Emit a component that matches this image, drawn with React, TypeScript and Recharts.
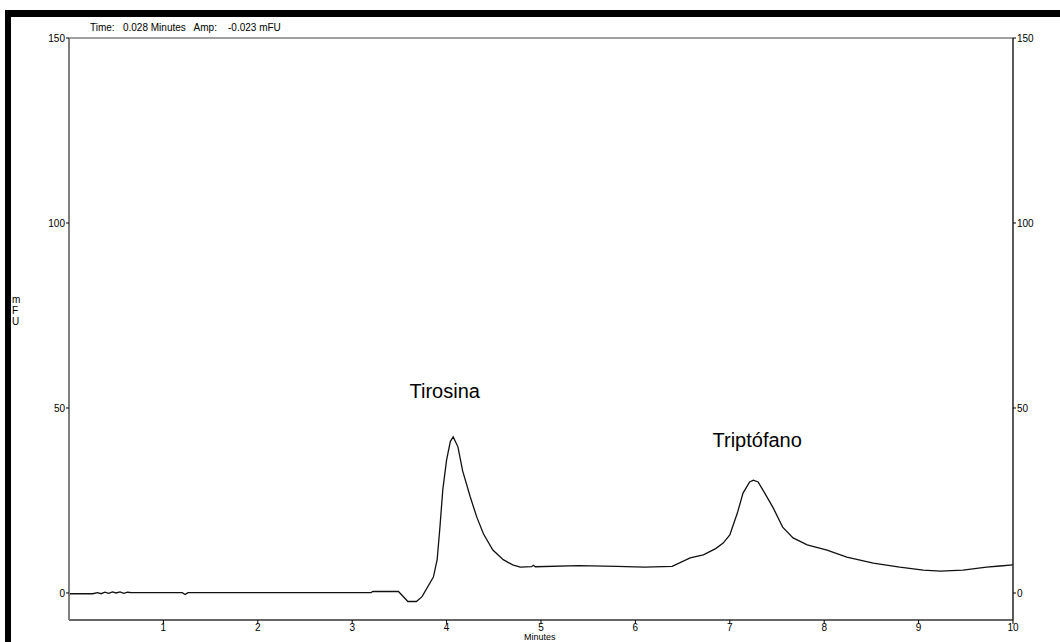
import React from "react";
import {
  LineChart,
  Line,
  XAxis,
  YAxis,
  ReferenceLine,
  ReferenceDot,
} from "recharts";

// retention time (min) and signal (mFU)
const times = [
  0.0, 0.25, 0.3, 0.34, 0.38, 0.42, 0.46, 0.5, 0.54, 0.58, 0.62, 0.66,
  1.2, 1.23, 1.26, 3.2, 3.22, 3.49, 3.59, 3.68, 3.74, 3.86, 3.9, 3.93,
  3.96, 4.0, 4.04, 4.07, 4.12, 4.17, 4.25, 4.32, 4.39, 4.49, 4.6, 4.7,
  4.78, 4.9, 4.92, 4.94, 5.4, 5.8, 6.1, 6.39, 6.58, 6.72, 6.85, 6.93,
  7.0, 7.08, 7.14, 7.21, 7.25, 7.3, 7.37, 7.46, 7.56, 7.67, 7.82, 8.03,
  8.24, 8.52, 8.8, 9.05, 9.23, 9.47, 9.72, 9.86, 10.0,
];
const amps = [
  -0.2, -0.2, 0.1, -0.2, 0.2, -0.1, 0.3, 0.0, 0.3, -0.1, 0.2, 0.1,
  0.1, -0.4, 0.1, 0.1, 0.45, 0.4, -2.3, -2.3, -1.0, 4.3, 9, 18,
  28, 36, 41, 42.2, 39.5, 33, 26, 20.5, 16, 11.6, 9, 7.6,
  7.0, 7.1, 7.5, 7.1, 7.4, 7.2, 7.0, 7.2, 9.5, 10.3, 12.0, 13.5,
  15.7, 21.6, 27, 30, 30.5, 30, 27, 23, 17.8, 14.9, 13, 11.6,
  9.7, 8.1, 7.0, 6.2, 5.9, 6.2, 7.0, 7.3, 7.6,
];

const xTicks = [1, 2, 3, 4, 5, 6, 7, 8, 9, 10];
const yTicks = [0, 50, 100, 150];

const peakNames = ["Tirosina", "Triptófano"];
const peakLabelX = [3.98, 7.29];
const peakLabelY = [54.6, 41.4];

const data = times.map((t, i) => ({ t, amp: amps[i] }));

const font = "'Liberation Sans', Arial, sans-serif";
const tick = { fill: "#000", fontSize: 10, fontFamily: font };

export default function App() {
  return (
    <div
      style={{
        position: "absolute",
        left: 0,
        top: 0,
        width: 1060,
        height: 642,
        overflow: "hidden",
        background: "#fff",
        fontFamily: font,
      }}
    >
      {/* black frame of the scanned figure */}
      <div
        style={{
          position: "absolute",
          left: 5,
          top: 10,
          width: 1100,
          height: 700,
          borderLeft: "6px solid #000",
          borderTop: "7px solid #000",
        }}
      />
      <div style={{ position: "absolute", left: 0, top: 0 }}>
        <LineChart
          width={1060}
          height={642}
          data={data}
          margin={{ top: 38, right: 0, bottom: 0, left: 0 }}
        >
          <XAxis
            dataKey="t"
            type="number"
            domain={[0, 10]}
            ticks={xTicks}
            interval={0}
            height={22}
            tickSize={4}
            tickMargin={0}
            tick={tick}
            axisLine={{ stroke: "#333", strokeWidth: 1.5 }}
            tickLine={{ stroke: "#000" }}
          />
          <YAxis
            yAxisId="left"
            orientation="left"
            width={69}
            domain={[-7.3, 150]}
            ticks={yTicks}
            interval={0}
            allowDataOverflow
            tickSize={3}
            tickMargin={1}
            tick={tick}
            axisLine={{ stroke: "#808080", strokeWidth: 2 }}
            tickLine={{ stroke: "#000" }}
          />
          <YAxis
            yAxisId="right"
            orientation="right"
            width={47}
            domain={[-7.3, 150]}
            ticks={yTicks}
            interval={0}
            allowDataOverflow
            tickSize={3}
            tickMargin={1}
            tick={tick}
            axisLine={{ stroke: "#222", strokeWidth: 1.5 }}
            tickLine={{ stroke: "#000" }}
          />
          <ReferenceLine yAxisId="left" y={150} stroke="#808080" strokeWidth={1.5} />
          <Line
            yAxisId="left"
            type="linear"
            dataKey="amp"
            stroke="#111"
            strokeWidth={1.3}
            dot={false}
            isAnimationActive={false}
          />
          {peakNames.map((name, i) => (
            <ReferenceDot
              key={name}
              yAxisId="left"
              x={peakLabelX[i]}
              y={peakLabelY[i]}
              r={0}
              fill="none"
              stroke="none"
              label={{
                value: name,
                position: "center",
                fill: "#000",
                fontSize: 20,
                fontFamily: font,
              }}
            />
          ))}
        </LineChart>
      </div>
      {/* status line */}
      <div style={{ position: "absolute", left: 90, top: 22, fontSize: 10, whiteSpace: "pre", color: "#000" }}>
        {"Time:   0.028 Minutes   Amp:    -0.023 mFU"}
      </div>
      {/* y unit, stacked */}
      <div
        style={{
          position: "absolute",
          left: 12,
          top: 294,
          width: 8,
          fontSize: 10,
          lineHeight: "11px",
          color: "#000",
        }}
      >
        <div>m</div>
        <div>F</div>
        <div>U</div>
      </div>
      <div
        style={{
          position: "absolute",
          left: 524,
          top: 632,
          fontSize: 9,
          lineHeight: "10px",
          color: "#000",
        }}
      >
        Minutes
      </div>
    </div>
  );
}
